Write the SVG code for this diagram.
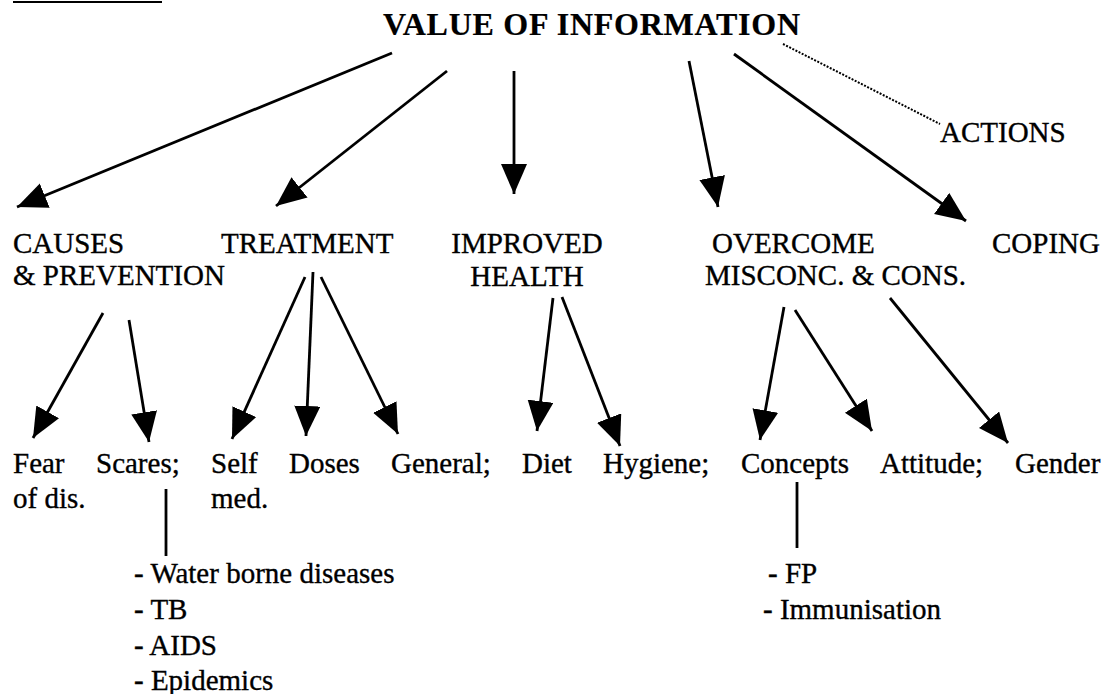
<svg xmlns="http://www.w3.org/2000/svg" width="1108" height="694" viewBox="0 0 1108 694">
  <defs>
    <marker id="head" markerUnits="userSpaceOnUse" markerWidth="34" markerHeight="28" refX="30" refY="13" orient="auto">
      <path d="M0,0 L30,13 L0,26 z" fill="#000"/>
    </marker>
    <style>
      text { font-family: "Liberation Serif", "Times New Roman", serif; font-size: 29px; fill: #000; stroke: #000; stroke-width: 0.35; }
      .title { font-weight: bold; font-size: 32px; stroke-width: 0.2; }
      .arrow { stroke: #000; stroke-width: 2.8; fill: none; marker-end: url(#head); }
      .plain { stroke: #000; stroke-width: 2.8; fill: none; }
      .dotted { stroke: #000; stroke-width: 2; stroke-dasharray: 2 1.5; fill: none; }
    </style>
  </defs>
  <rect width="1108" height="694" fill="#fff"/>

  <!-- heading rule at the top edge -->
  <line x1="13" y1="2" x2="162" y2="2" stroke="#000" stroke-width="2"/>

  <g id="root">
    <text class="title" x="383" y="35" textLength="417" lengthAdjust="spacing">VALUE OF INFORMATION</text>
  </g>

  <g id="actions"><text x="940" y="142">ACTIONS</text></g>

  <g id="causes">
    <text x="13" y="253">CAUSES</text>
    <text x="13" y="285">&amp; PREVENTION</text>
  </g>
  <g id="treatment"><text x="221" y="253">TREATMENT</text></g>
  <g id="improved">
    <text x="527" y="253" text-anchor="middle">IMPROVED</text>
    <text x="527" y="286" text-anchor="middle">HEALTH</text>
  </g>
  <g id="overcome">
    <text x="712" y="253">OVERCOME</text>
    <text x="705" y="285">MISCONC. &amp; CONS.</text>
  </g>
  <g id="coping"><text x="992" y="253">COPING</text></g>

  <g id="fear">
    <text x="13" y="473">Fear</text>
    <text x="13" y="508">of dis.</text>
  </g>
  <g id="scares"><text x="96" y="473">Scares;</text></g>
  <g id="self">
    <text x="211" y="473">Self</text>
    <text x="211" y="508">med.</text>
  </g>
  <g id="doses"><text x="289" y="473">Doses</text></g>
  <g id="general"><text x="391" y="473">General;</text></g>
  <g id="diet"><text x="522" y="473">Diet</text></g>
  <g id="hygiene"><text x="603" y="473">Hygiene;</text></g>
  <g id="concepts"><text x="741" y="473">Concepts</text></g>
  <g id="attitude"><text x="880" y="473">Attitude;</text></g>
  <g id="gender"><text x="1015" y="473">Gender</text></g>

  <g id="scares-list">
    <text x="134" y="583">- Water borne diseases</text>
    <text x="134" y="619">- TB</text>
    <text x="134" y="655">- AIDS</text>
    <text x="134" y="690">- Epidemics</text>
  </g>
  <g id="concepts-list">
    <text x="768" y="583">- FP</text>
    <text x="763" y="619">- Immunisation</text>
  </g>

  <g id="connectors">
    <!-- from the heading -->
    <line class="arrow" x1="392" y1="53" x2="17" y2="207"/>
    <line class="arrow" x1="447" y1="71" x2="276" y2="206"/>
    <line class="arrow" x1="514" y1="71" x2="514" y2="194"/>
    <line class="arrow" x1="689" y1="61" x2="718" y2="207"/>
    <line class="arrow" x1="734" y1="54" x2="966" y2="221"/>
    <line class="dotted" x1="783" y1="44" x2="940" y2="124"/>
    <!-- causes & prevention -->
    <line class="arrow" x1="103" y1="313" x2="33" y2="438"/>
    <line class="arrow" x1="129" y1="320" x2="149" y2="442"/>
    <!-- treatment -->
    <line class="arrow" x1="305" y1="277" x2="232" y2="439"/>
    <line class="arrow" x1="313" y1="272" x2="306" y2="436"/>
    <line class="arrow" x1="321" y1="277" x2="398" y2="434"/>
    <!-- improved health -->
    <line class="arrow" x1="553" y1="298" x2="537" y2="431"/>
    <line class="arrow" x1="562" y1="297" x2="620" y2="446"/>
    <!-- overcome misconceptions -->
    <line class="arrow" x1="784" y1="307" x2="760" y2="440"/>
    <line class="arrow" x1="795" y1="310" x2="872" y2="431"/>
    <line class="arrow" x1="890" y1="298" x2="1008" y2="443"/>
    <!-- list rules -->
    <line class="plain" x1="166" y1="489" x2="166" y2="556"/>
    <line class="plain" x1="797" y1="482" x2="797" y2="548"/>
  </g>
</svg>
